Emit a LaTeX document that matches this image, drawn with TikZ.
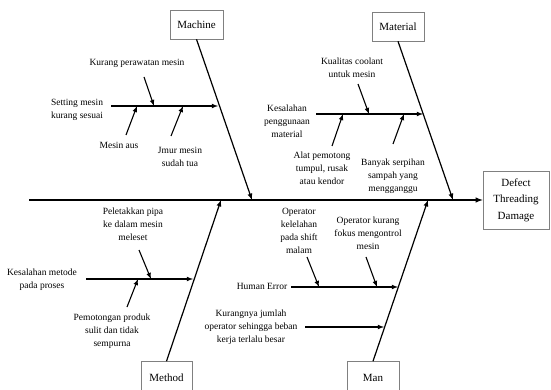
\documentclass[tikz,border=0pt]{standalone}
\usepackage{fontspec}
\setmainfont{Liberation Serif}

\begin{document}
\begin{tikzpicture}[x=1pt,y=-1pt,
    catbox/.style={draw=gray, line width=0.6pt, fill=white, minimum width=52pt, minimum height=29pt, font=\fontsize{11}{13}\selectfont},
    cause/.style={align=center, font=\fontsize{9.5}{13}\selectfont, inner sep=1pt},
    bone/.style={-latex, line width=1.2pt},
    subbone/.style={-latex, line width=1.1pt}]
    \useasboundingbox (0,0) rectangle (551,390);

    % Effect and spine
    \node[catbox, minimum width=66pt, minimum height=58pt, align=center, font=\fontsize{11}{16.5}\selectfont] (effect) at (516,200) {Defect\\Threading\\Damage};
    \coordinate (tail) at (29,200);
    \draw[bone, line width=1.4pt] (tail) -- (effect.west); % spine

    % Category boxes
    \node[catbox, minimum width=53pt] (machine) at (196.5,24.5) {Machine};
    \node[catbox] (material) at (398,26.5) {Material};
    \node[catbox, minimum width=51pt, minimum height=32pt] (method) at (166.5,377.5) {Method};
    \node[catbox, minimum height=32pt] (man) at (373,377.5) {Man};

    % Main bones
    \coordinate (mcend) at (252,200);
    \coordinate (maend) at (453,200);
    \coordinate (meend) at (221,200);
    \coordinate (mnend) at (428,200);
    \draw[bone] (machine.south) -- (mcend);
    \draw[bone] (material.south) -- (maend);
    \draw[bone] (method.north) -- (meend);
    \draw[bone] (man.north) -- (mnend);

    % Machine causes
    \node[cause] (kurang) at (137,63) {Kurang perawatan mesin};
    \node[cause] (setting) at (77,110) {Setting mesin\\kurang sesuai};
    \node[cause] (aus) at (119,145) {Mesin aus};
    \node[cause] (umur) at (180,157) {Jmur mesin\\sudah tua};
    \coordinate (mc0) at (111,106);
    \coordinate (mc1) at (218,106);
    \coordinate (kurang0) at (144,77);
    \coordinate (kurang1) at (154,106);
    \coordinate (aus0) at (126,135);
    \coordinate (aus1) at (137,106);
    \coordinate (umur0) at (171,136);
    \coordinate (umur1) at (183,106);
    \draw[subbone] (mc0) -- (mc1); % setting mesin
    \draw[subbone] (kurang0) -- (kurang1);
    \draw[subbone] (aus0) -- (aus1);
    \draw[subbone] (umur0) -- (umur1);

    % Material causes
    \node[cause] (coolant) at (352,68) {Kualitas coolant\\untuk mesin};
    \node[cause] (guna) at (287,121) {Kesalahan\\penggunaan\\material};
    \node[cause] (alat) at (322,168) {Alat pemotong\\tumpul, rusak\\atau kendor};
    \node[cause] (serpih) at (393,176) {Banyak serpihan\\sampah yang\\mengganggu};
    \coordinate (ma0) at (316,114);
    \coordinate (ma1) at (423,114);
    \coordinate (coolant0) at (358,84);
    \coordinate (coolant1) at (369,114);
    \coordinate (alat0) at (332,146);
    \coordinate (alat1) at (343,114);
    \coordinate (serpih0) at (393,144);
    \coordinate (serpih1) at (404,114);
    \draw[subbone] (ma0) -- (ma1); % penggunaan material
    \draw[subbone] (coolant0) -- (coolant1);
    \draw[subbone] (alat0) -- (alat1);
    \draw[subbone] (serpih0) -- (serpih1);

    % Method causes
    \node[cause] (pipa) at (133,224) {Peletakkan pipa\\ke dalam mesin\\meleset};
    \node[cause] (metode) at (42,280) {Kesalahan metode\\pada proses};
    \node[cause] (potong) at (112,331) {Pemotongan produk\\sulit dan tidak\\sempurna};
    \coordinate (me0) at (86,279);
    \coordinate (me1) at (193,279);
    \coordinate (pipa0) at (139,250);
    \coordinate (pipa1) at (151,279);
    \coordinate (potong0) at (127,307);
    \coordinate (potong1) at (138,279);
    \draw[subbone] (me0) -- (me1); % metode
    \draw[subbone] (pipa0) -- (pipa1);
    \draw[subbone] (potong0) -- (potong1);

    % Man causes
    \node[cause] (human) at (262,286) {Human Error};
    \node[cause] (jumlah) at (251,327) {Kurangnya jumlah\\operator sehingga beban\\kerja terlalu besar};
    \node[cause] (lelah) at (299,231) {Operator\\kelelahan\\pada shift\\malam};
    \node[cause] (fokus) at (368,233) {Operator kurang\\fokus mengontrol\\mesin};
    \coordinate (mn0) at (291,287);
    \coordinate (mn1) at (398,287);
    \coordinate (jumlah0) at (305,327);
    \coordinate (jumlah1) at (384,327);
    \coordinate (lelah0) at (307,257);
    \coordinate (lelah1) at (319,287);
    \coordinate (fokus0) at (366,257);
    \coordinate (fokus1) at (377,287);
    \draw[subbone] (mn0) -- (mn1); % human error
    \draw[subbone] (jumlah0) -- (jumlah1);
    \draw[subbone] (lelah0) -- (lelah1);
    \draw[subbone] (fokus0) -- (fokus1);
\end{tikzpicture}
\end{document}
